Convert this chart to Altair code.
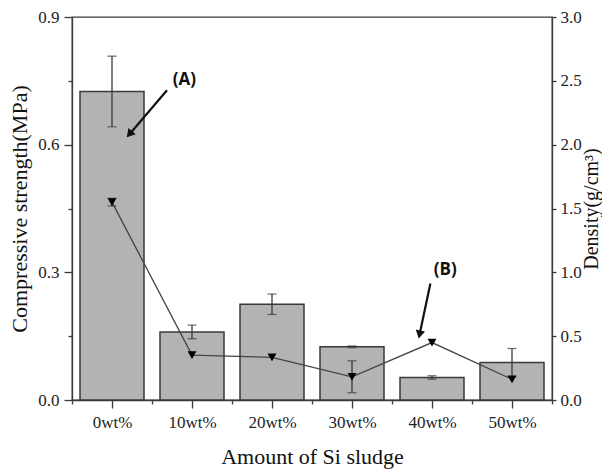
import json
import altair as alt
import pandas as pd

# ---- data ----
categories = ["0wt%", "10wt%", "20wt%", "30wt%", "40wt%", "50wt%"]
strength = [0.725, 0.160, 0.225, 0.125, 0.053, 0.088]          # MPa (left axis)
strength_err = [0.083, 0.016, 0.024, 0.002, 0.004, 0.033]
density = [1.55, 0.352, 0.334, 0.182, 0.45, 0.162]             # g/cm3 (right axis)
density_err = [0.03, 0.0, 0.0, 0.125, 0.0, 0.0]

ann_text = ["(A)", "(B)"]
ann_text_x = [0.906, 4.166]
ann_text_y = [0.751, 0.305]
arrow_x0 = [0.6875, 3.98]
arrow_y0 = [0.728, 0.274]
arrow_x1 = [0.229, 3.848]
arrow_y1 = [0.627, 0.157]
arrow_angle = [220, 192]

idx = list(range(len(categories)))
df = pd.DataFrame({
    "idx": idx,
    "cat": categories,
    "s": strength,
    "s_err": strength_err,
    "d": density,
    "d_err": density_err,
})
df["left"] = df["idx"] - 0.4
df["right"] = df["idx"] + 0.4
df["s_lo"] = df["s"] - df["s_err"]
df["s_hi"] = df["s"] + df["s_err"]
df["d_lo"] = df["d"] - df["d_err"]
df["d_hi"] = df["d"] + df["d_err"]
dfe = df[df["d_err"] > 0]

ann = pd.DataFrame({"t": ann_text, "x": ann_text_x, "y": ann_text_y})
arr = pd.DataFrame({"x0": arrow_x0, "y0": arrow_y0, "x1": arrow_x1,
                    "y1": arrow_y1, "a": arrow_angle})

FONT = "Liberation Serif"
DARK = "#3a3a3a"

xvals = [i * 0.5 - 0.5 for i in range(13)]
cat_js = json.dumps(categories)
xaxis = alt.Axis(
    values=xvals,
    labelExpr=f"datum.value % 1 === 0 ? {cat_js}[datum.value] : ''",
    tickSize={"condition": {"test": "datum.value % 1 === 0", "value": 8}, "value": 4},
    labelOverlap=False, labelFlush=False, grid=False,
    title="Amount of Si sludge", titlePadding=16,
    labelPadding=6,
)
xscale = alt.Scale(domain=[-0.5, 5.5], nice=False, zero=False)
X = lambda f: alt.X(f, type="quantitative", scale=xscale, axis=xaxis)

lvals = [round(i * 0.15, 2) for i in range(7)]
ltest = "abs(datum.value/0.3 - round(datum.value/0.3)) < 0.001"
laxis = alt.Axis(
    values=lvals, grid=False,
    labelExpr=f"{ltest} ? format(datum.value, '.1f') : ''",
    tickSize={"condition": {"test": ltest, "value": 8}, "value": 4},
    labelOverlap=False, labelFlush=False,
    title="Compressive strength(MPa)", titlePadding=6, labelPadding=5,
)
lscale = alt.Scale(domain=[0, 0.9], nice=False)

rvals = [i * 0.25 for i in range(13)]
rtest = "abs(datum.value/0.5 - round(datum.value/0.5)) < 0.001"
raxis = alt.Axis(
    orient="right", values=rvals, grid=False,
    labelExpr=f"{rtest} ? format(datum.value, '.1f') : ''",
    tickSize=4, labelOverlap=False, labelFlush=False,
    title="Density(g/cm³)", titleAngle=270, titleBaseline="top",
    titlePadding=0, labelPadding=4, titleFontSize=20,
)
rscale = alt.Scale(domain=[0, 3], nice=False)

base = alt.Chart(df)

bars = base.mark_bar(fill="#b3b3b3", stroke=DARK, strokeWidth=1.5).encode(
    x=X("left"), x2="right",
    y=alt.Y("s", type="quantitative", scale=lscale, axis=laxis), y2=alt.datum(0),
)
s_rule = base.mark_rule(color=DARK, strokeWidth=1.3).encode(
    x=X("idx"), y=alt.Y("s_lo", type="quantitative", scale=lscale), y2="s_hi")
s_cap_lo = base.mark_tick(orient="horizontal", color=DARK, size=9, thickness=1.3).encode(
    x=X("idx"), y=alt.Y("s_lo", type="quantitative", scale=lscale))
s_cap_hi = base.mark_tick(orient="horizontal", color=DARK, size=9, thickness=1.3).encode(
    x=X("idx"), y=alt.Y("s_hi", type="quantitative", scale=lscale))

ann_text_layer = alt.Chart(ann).mark_text(
    font="Open Sans", fontWeight="bold", fontSize=17, color="#111"
).encode(x=X("x"), y=alt.Y("y", type="quantitative", scale=lscale), text="t")
arrow_line = alt.Chart(arr).mark_rule(color="#111", strokeWidth=2.2).encode(
    x=X("x0"), y=alt.Y("y0", type="quantitative", scale=lscale), x2="x1", y2="y1")
arrow_head = alt.Chart(arr).mark_point(
    shape="triangle", filled=True, color="#111", opacity=1, size=90
).encode(x=X("x1"), y=alt.Y("y1", type="quantitative", scale=lscale),
         angle=alt.Angle("a", type="quantitative", scale=None))

left_layer = alt.layer(bars, s_rule, s_cap_lo, s_cap_hi, arrow_line, arrow_head, ann_text_layer)

d_line = base.mark_line(color="#444", strokeWidth=1.3).encode(
    x=X("idx"), y=alt.Y("d", type="quantitative", scale=rscale, axis=raxis))
d_rule = alt.Chart(dfe).mark_rule(color=DARK, strokeWidth=1.3).encode(
    x=X("idx"), y=alt.Y("d_lo", type="quantitative", scale=rscale), y2="d_hi")
d_cap_lo = alt.Chart(dfe).mark_tick(orient="horizontal", color=DARK, size=9, thickness=1.3).encode(
    x=X("idx"), y=alt.Y("d_lo", type="quantitative", scale=rscale))
d_cap_hi = alt.Chart(dfe).mark_tick(orient="horizontal", color=DARK, size=9, thickness=1.3).encode(
    x=X("idx"), y=alt.Y("d_hi", type="quantitative", scale=rscale))
d_pts = base.mark_point(shape="triangle-down", filled=True, color="#000", opacity=1, size=80).encode(
    x=X("idx"), y=alt.Y("d", type="quantitative", scale=rscale))

right_layer = alt.layer(d_line, d_rule, d_cap_lo, d_cap_hi, d_pts)

chart = alt.layer(left_layer, right_layer).resolve_scale(y="independent").properties(
    width=480, height=383,
    autosize=alt.AutoSizeParams(type="none"),
    padding={"left": 64, "top": 9, "right": 50, "bottom": 70},
).configure_view(
    stroke=DARK, strokeWidth=1.3
).configure_axis(
    labelFont=FONT, labelFontSize=17, labelColor="#222",
    titleFont=FONT, titleFontSize=22, titleFontWeight="normal", titleColor="#111",
    domainColor=DARK, tickColor=DARK, domainWidth=1.3, tickWidth=1.3,
)

chart.save("out.html", embed_options={"renderer": "svg", "actions": False})
